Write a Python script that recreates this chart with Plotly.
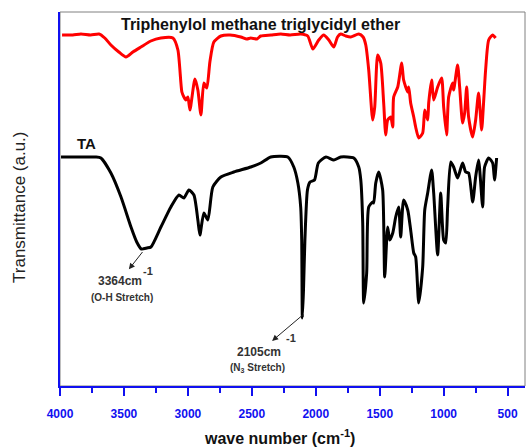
import plotly.graph_objects as go

# FTIR spectrum of triphenylol methane triglycidyl ether (offset upper trace)
tgether_wn = [3984, 3900, 3836, 3760, 3695, 3650, 3602, 3540, 3484, 3430, 3367, 3290,
              3211, 3117, 3078, 3047, 3031, 3016, 3000, 2984, 2945, 2922, 2898, 2875,
              2852, 2828, 2797, 2742, 2670, 2586, 2540, 2508, 2460, 2430, 2350, 2273,
              2200, 2117, 2063, 2023, 1977, 1938, 1898, 1859, 1830, 1805, 1765, 1727,
              1664, 1630, 1609, 1586, 1555, 1539, 1516, 1492, 1469, 1453, 1438, 1414,
              1398, 1391, 1359, 1328, 1313, 1281, 1273, 1258, 1234, 1219, 1195, 1164,
              1148, 1125, 1117, 1094, 1078, 1047, 1016, 1000, 977, 961, 930, 922,
              891, 875, 852, 836, 820, 805, 773, 750, 727, 703, 688, 672,
              648, 617, 594]
tgether_t = [365, 365, 366, 365, 366, 362, 355, 348, 343, 348, 353, 359,
             362, 362, 350, 308, 303, 300, 303, 290, 321, 310, 285, 317,
             312, 338, 358, 364, 365, 363, 361, 362, 361, 364, 365, 366,
             365, 366, 364, 351, 360, 365, 360, 353, 363, 366, 364, 363,
             366, 363, 355, 330, 280, 293, 345, 337, 297, 265, 280, 283,
             273, 303, 313, 337, 320, 308, 313, 297, 283, 273, 262, 267,
             290, 280, 297, 320, 300, 313, 322, 293, 265, 303, 317, 310,
             335, 313, 277, 287, 313, 283, 263, 280, 307, 270, 297, 330,
             360, 365, 362]

# FTIR spectrum of TA
ta_wn = [3992, 3880, 3781, 3720, 3680, 3602, 3523, 3445, 3400, 3364, 3320, 3289,
         3211, 3133, 3070, 3031, 2992, 2953, 2922, 2906, 2875, 2844, 2805, 2742,
         2641, 2508, 2430, 2352, 2219, 2172, 2140, 2118, 2110, 2105, 2096, 2085,
         2065, 2045, 2010, 1980, 1920, 1859, 1805, 1703, 1664, 1648, 1633, 1625,
         1602, 1586, 1555, 1547, 1531, 1508, 1477, 1461, 1438, 1422, 1398, 1375,
         1352, 1336, 1313, 1281, 1258, 1234, 1219, 1195, 1164, 1148, 1125, 1094,
         1078, 1047, 1023, 1000, 984, 969, 945, 922, 891, 852, 828, 805,
         773, 750, 727, 695, 680, 648, 617, 602, 586]
ta_t = [243, 243, 243, 243, 242, 227, 203, 173, 158, 151, 152, 153,
        173, 193, 205, 202, 210, 205, 180, 165, 187, 180, 213, 223,
        228, 233, 237, 243, 243, 233, 217, 193, 160, 82, 110, 160,
        210, 218, 220, 237, 243, 240, 243, 242, 233, 220, 177, 97,
        127, 193, 198, 197, 217, 228, 210, 123, 173, 160, 167, 183,
        193, 163, 200, 190, 170, 147, 143, 97, 133, 190, 207, 230,
        207, 145, 207, 160, 157, 193, 238, 233, 222, 237, 228, 227,
        198, 223, 240, 193, 233, 242, 237, 220, 242]

x_ticks = [4000, 3500, 3000, 2500, 2000, 1500, 1000, 500]

BLUE = "#1010f0"
TXT = "#333333"

fig = go.Figure()
fig.add_trace(go.Scatter(x=tgether_wn, y=tgether_t, mode="lines",
                         line=dict(color="#ff0000", width=3, shape="spline", smoothing=0.6),
                         showlegend=False))
fig.add_trace(go.Scatter(x=ta_wn, y=ta_t, mode="lines",
                         line=dict(color="#000000", width=3, shape="spline", smoothing=0.6),
                         showlegend=False))

fig.update_layout(
    width=531, height=448,
    margin=dict(l=60, r=6, t=12, b=62),
    paper_bgcolor="white", plot_bgcolor="white",
    font=dict(family="Liberation Sans, Arial, sans-serif"),
    xaxis=dict(range=[4000, 364], showgrid=False, zeroline=False,
               showline=True, linecolor=BLUE, linewidth=2,
               tickvals=x_ticks, ticks="outside", ticklen=8, tickwidth=2,
               tickcolor=BLUE, ticklabelstandoff=8,
               tickfont=dict(size=12, color=BLUE, weight="bold"),
               minor=dict(dtick=250, tick0=0, ticks="outside", ticklen=5,
                          tickwidth=2, tickcolor=BLUE)),
    yaxis=dict(range=[14, 388], showgrid=False, zeroline=False,
               showline=True, linecolor=BLUE, linewidth=2,
               showticklabels=False, ticks=""),
    shapes=[dict(type="rect", xref="paper", yref="paper", x0=0, y0=0, x1=1, y1=1,
                 line=dict(color="#808080", width=1), layer="below")],
)

annotations = [
    dict(text="Triphenylol methane triglycidyl ether", x=3540, y=376,
         xanchor="left", font=dict(size=16, color="#111111", weight="bold")),
    dict(text="TA", x=3791, y=257, font=dict(size=15, color="#111111", weight="bold")),
    dict(text="-1", x=3315, y=129, font=dict(size=11, color=TXT, weight="bold")),
    dict(text="(O-H Stretch)", x=3516, y=103, font=dict(size=10, color=TXT, weight="bold")),
    dict(text="-1", x=2190, y=62, font=dict(size=11, color=TXT, weight="bold")),
    dict(text="(N<sub>3</sub> Stretch)", x=2452, y=32,
         font=dict(size=10, color=TXT, weight="bold")),
    dict(text="wave number (cm<sup>-1</sup>)", xref="paper", yref="paper",
         x=0.473, y=-0.136, font=dict(size=16, color="#111111", weight="bold")),
    dict(text="Transmittance (a.u.)", xref="paper", yref="paper", textangle=-90,
         x=-0.086, y=0.476, font=dict(size=17, color="#222222")),
]
for a in annotations:
    a.setdefault("xref", "x")
    a.setdefault("yref", "y")
    a.update(showarrow=False, xanchor=a.get("xanchor", "center"), yanchor="middle")
    fig.add_annotation(**a)

# band labels, each with an arrow running from the band to its label
band_labels = [("3364cm", (3355, 148), (3533, 119)),
               ("2105cm", (2102, 85), (2444, 48))]
for text, band, label in band_labels:
    fig.add_annotation(text=text, x=band[0], y=band[1], ax=label[0], ay=label[1],
                       xref="x", yref="y", axref="x", ayref="y",
                       font=dict(size=12, color=TXT, weight="bold"),
                       showarrow=True, arrowside="start", arrowhead=2,
                       startarrowhead=2, startarrowsize=1.2, arrowsize=1.2,
                       arrowwidth=1, arrowcolor="#222222", startstandoff=4)

fig.write_html("out.html")
